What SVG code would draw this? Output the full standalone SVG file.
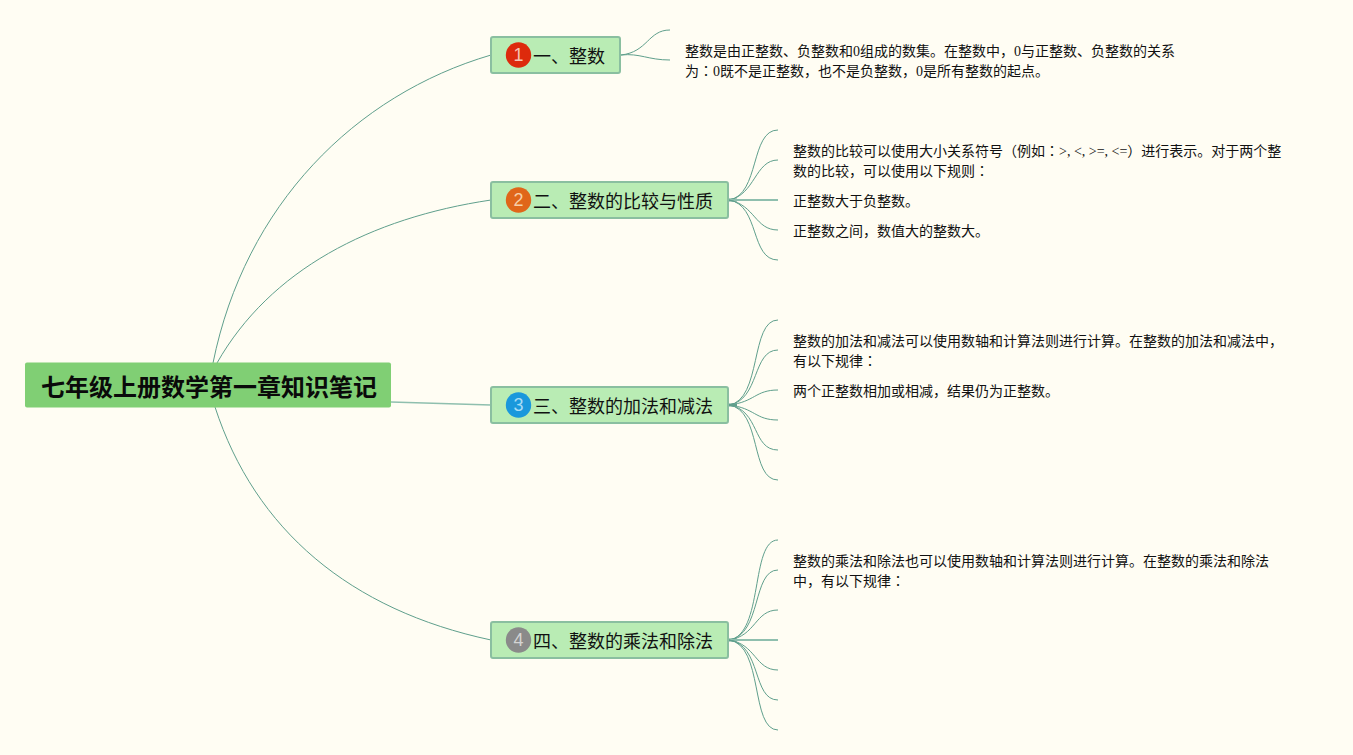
<svg xmlns="http://www.w3.org/2000/svg" width="1353" height="755" viewBox="0 0 1353 755">
<style>
.c{fill:none;stroke:#5f9f8c;stroke-width:1}
.t{stroke-width:2;stroke:#8fbfae}
.s{stroke-width:3}
.box{fill:#b9ecb4;stroke:#8abfa0;stroke-width:2}
.lab{font:18px "Noto Sans CJK SC","Liberation Sans",sans-serif;fill:#111}
.num{font:18px "Liberation Sans",sans-serif;text-anchor:middle}
.note{font:14px "Liberation Serif","Noto Sans CJK SC",serif;fill:#111}
.tc{font-family:"Noto Sans CJK TC",sans-serif}
.root{font:bold 24px "Noto Sans CJK SC","Liberation Sans",sans-serif;fill:#0a0a0a}
</style>
<rect width="1353" height="755" fill="#fffdf3"/>
<g id="connectors">
<path class="c" d="M213 363C245 205 355 95 491 55"/>
<path class="c" d="M217 363C270 270 370 218 491 200"/>
<path class="c t" style="stroke-width:1.300" d="M391 402L491 405"/>
<path class="c" d="M215 407C255 530 350 610 491 640"/>
<path class="c" d="M621 55C648 52 648 30 670 30"/>
<path class="c" d="M621 55C640 53 648 60 670 60"/>
<path class="c s" d="M729 200H737"/>
<path class="c s" d="M729 405H737"/>
<path class="c s" d="M729 640H737"/>
<path class="c" d="M729 200C760 195 750 130 778 130"/>
<path class="c" d="M729 200C755 195 755 160 778 160"/>
<path class="c t" d="M729 200H778"/>
<path class="c" d="M729 200C755 205 755 230 778 230"/>
<path class="c" d="M729 200C760 205 750 260 778 260"/>
<path class="c" d="M729 405C762 400 750 320 778 320"/>
<path class="c" d="M729 405C760 400 752 350 778 350"/>
<path class="c" d="M729 405C755 402 755 390 778 390"/>
<path class="c" d="M729 405C755 408 755 420 778 420"/>
<path class="c" d="M729 405C760 410 752 450 778 450"/>
<path class="c" d="M729 405C762 410 750 480 778 480"/>
<path class="c" d="M729 640C764 635 750 540 778 540"/>
<path class="c" d="M729 640C762 635 752 570 778 570"/>
<path class="c" d="M729 640C756 636 755 610 778 610"/>
<path class="c t" d="M729 640H778"/>
<path class="c" d="M729 640C756 644 755 670 778 670"/>
<path class="c" d="M729 640C762 645 752 700 778 700"/>
<path class="c" d="M729 640C764 645 750 730 778 730"/>
</g>
<g id="root">
<rect x="25" y="362.500" width="366" height="45" rx="2" fill="#80cf74"/>
<text class="root" x="41" y="396">七年级上册数学第一章知识笔记</text>
</g>
<g id="n1">
<rect class="box" x="491" y="37" width="129" height="36" rx="2"/>
<circle cx="518.500" cy="55" r="12.700" fill="#dd2a0c"/>
<text class="num" x="518.500" y="61" fill="#f6c4b4">1</text>
<text class="lab" x="533" y="63">一、整数</text>
</g>
<g id="n2">
<rect class="box" x="491" y="182" width="237" height="36" rx="2"/>
<circle cx="518.500" cy="200" r="12.700" fill="#e0661a"/>
<text class="num" x="518.500" y="206" fill="#f6cfa8">2</text>
<text class="lab" x="533" y="208">二、整数的比较与性质</text>
</g>
<g id="n3">
<rect class="box" x="491" y="387" width="237" height="36" rx="2"/>
<circle cx="518.500" cy="405" r="12.700" fill="#1a98dc"/>
<text class="num" x="518.500" y="411" fill="#a8dcf6">3</text>
<text class="lab" x="533" y="413">三、整数的加法和减法</text>
</g>
<g id="n4">
<rect class="box" x="491" y="622" width="237" height="36" rx="2"/>
<circle cx="518.500" cy="640" r="12.700" fill="#8a8a8a"/>
<text class="num" x="518.500" y="646" fill="#d4d4d4">4</text>
<text class="lab" x="533" y="648">四、整数的乘法和除法</text>
</g>
<g id="notes">
<text class="note" x="685" y="56">整数是由正整数、负整数和0组成的数集。在整数中，0与正整数、负整数的关系</text>
<text class="note" x="685" y="76">为<tspan class="tc">：</tspan>0既不是正整数，也不是负整数，0是所有整数的起点。</text>
<text class="note" x="793" y="156">整数的比较可以使用大小关系符号（例如<tspan class="tc">：</tspan>&gt;, &lt;, &gt;=, &lt;=）进行表示。对于两个整</text>
<text class="note" x="793" y="176">数的比较，可以使用以下规则<tspan class="tc">：</tspan></text>
<text class="note" x="793" y="206">正整数大于负整数。</text>
<text class="note" x="793" y="236">正整数之间，数值大的整数大。</text>
<text class="note" x="793" y="346">整数的加法和减法可以使用数轴和计算法则进行计算。在整数的加法和减法中，</text>
<text class="note" x="793" y="366">有以下规律<tspan class="tc">：</tspan></text>
<text class="note" x="793" y="396">两个正整数相加或相减，结果仍为正整数。</text>
<text class="note" x="793" y="566">整数的乘法和除法也可以使用数轴和计算法则进行计算。在整数的乘法和除法</text>
<text class="note" x="793" y="586">中，有以下规律<tspan class="tc">：</tspan></text>
</g>
</svg>
